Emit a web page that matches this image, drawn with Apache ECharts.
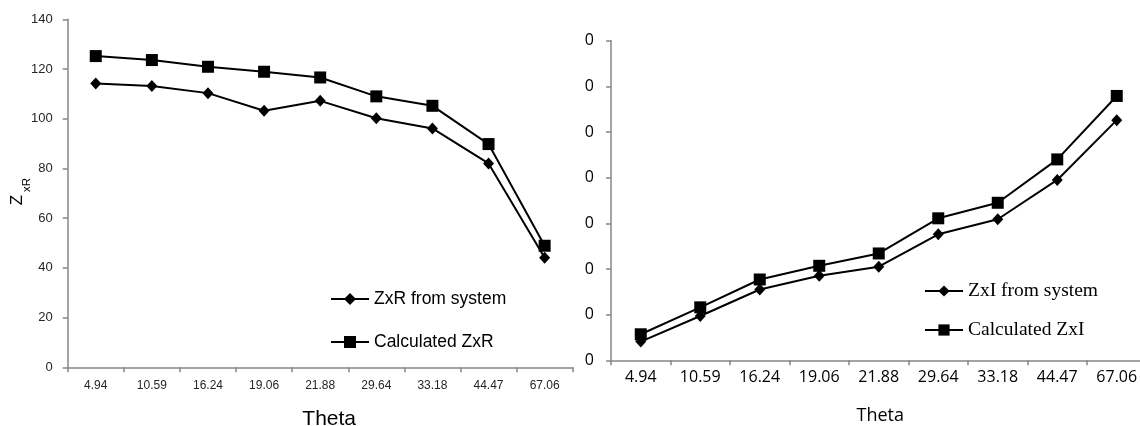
<!DOCTYPE html>
<html>
<head>
<meta charset="utf-8">
<script src="https://cdn.jsdelivr.net/npm/echarts@6/dist/echarts.min.js"></script>
<style>
html,body{margin:0;padding:0;background:#fff;}
#main{width:1140px;height:426px;}
</style>
</head>
<body>
<div id="main"></div>
<script>
const categories = ['4.94','10.59','16.24','19.06','21.88','29.64','33.18','44.47','67.06'];
const zxrSystem = [114.2, 113.2, 110.3, 103.2, 107.2, 100.2, 96.1, 82.0, 44.1];
const zxrCalc   = [125.2, 123.6, 120.9, 118.9, 116.6, 109.0, 105.2, 89.8, 48.9];
const zxiSystem = [4.1, 9.7, 15.5, 18.5, 20.5, 27.6, 30.9, 39.5, 52.6];
const zxiCalc   = [5.7, 11.6, 17.7, 20.7, 23.4, 31.1, 34.5, 44.0, 57.9];
const leftNames  = ['ZxR from system', 'Calculated ZxR'];
const rightNames = ['ZxI from system', 'Calculated ZxI'];

const chart = echarts.init(document.getElementById('main'), null, {renderer: 'canvas'});
const axisGrey = '#868686';
const sans = 'Liberation Sans, Arial, sans-serif';
const sans2 = 'Open Sans, Noto Sans, sans-serif';
const serif = 'Liberation Serif, Times New Roman, serif';

function lineSeries(name, data, symbol, size, xi, yi) {
  return {
    name: name, type: 'line', data: data, xAxisIndex: xi, yAxisIndex: yi,
    symbol: symbol, symbolSize: size, showSymbol: true,
    lineStyle: {color: '#000', width: 2},
    itemStyle: {color: '#000'},
    emphasis: {disabled: true}, animation: false, z: 3
  };
}

const option = {
  animation: false,
  backgroundColor: '#fff',
  grid: [
    {left: 67.7, top: 19.3, width: 505, height: 348, containLabel: false, outerBoundsMode: 'none'},
    {left: 611, top: 40.7, width: 535.5, height: 319.6, containLabel: false, outerBoundsMode: 'none'}
  ],
  xAxis: [
    {
      type: 'category', gridIndex: 0, data: categories, boundaryGap: true,
      axisLine: {lineStyle: {color: axisGrey, width: 1.5}},
      axisTick: {show: true, length: 5, lineStyle: {color: axisGrey, width: 1.5}},
      axisLabel: {color: '#262626', fontSize: 12, fontFamily: sans, margin: 12, interval: 0},
      splitLine: {show: false},
      name: 'Theta', nameLocation: 'middle', nameGap: 41,
      nameTextStyle: {color: '#000', fontSize: 21, fontFamily: sans, padding: [0, 0, 0, 18]}
    },
    {
      type: 'category', gridIndex: 1, data: categories, boundaryGap: true,
      axisLine: {lineStyle: {color: axisGrey, width: 1.5}},
      axisTick: {show: true, length: 5, lineStyle: {color: axisGrey, width: 1.5}},
      axisLabel: {color: '#000', fontSize: 16, fontFamily: sans2, margin: 9, interval: 0},
      splitLine: {show: false},
      name: 'Theta', nameLocation: 'middle', nameGap: 47,
      nameTextStyle: {color: '#000', fontSize: 18, fontFamily: sans2, padding: [0, 0, 0, 3]}
    }
  ],
  yAxis: [
    {
      type: 'value', gridIndex: 0, min: 0, max: 140, interval: 20,
      axisLine: {show: true, lineStyle: {color: axisGrey, width: 1.5}},
      axisTick: {show: true, length: 5, lineStyle: {color: axisGrey, width: 1.5}},
      axisLabel: {color: '#262626', fontSize: 13, fontFamily: sans, margin: 15},
      splitLine: {show: false}
    },
    {
      type: 'value', gridIndex: 1, min: 0, max: 70, interval: 10,
      axisLine: {show: true, lineStyle: {color: axisGrey, width: 1.5}},
      axisTick: {show: true, length: 5, lineStyle: {color: axisGrey, width: 1.5}},
      axisLabel: {color: '#000', fontSize: 16, fontFamily: sans2, margin: 17,
        formatter: function (v) { return String(v).slice(-1); }},
      splitLine: {show: false}
    }
  ],
  legend: [
    {
      data: leftNames, orient: 'vertical', left: 330, top: 290, padding: 0,
      itemWidth: 38, itemHeight: 15, itemGap: 25,
      textStyle: {color: '#000', fontSize: 17.5, fontFamily: sans},
      selectedMode: false
    },
    {
      data: rightNames, orient: 'vertical', left: 924, top: 281, padding: 0,
      itemWidth: 38, itemHeight: 14, itemGap: 19,
      textStyle: {color: '#000', fontSize: 19.5, fontFamily: serif},
      selectedMode: false
    }
  ],
  graphic: [
    {type: 'text', x: 17, y: 200, rotation: Math.PI / 2,
      style: {text: 'Z', fontSize: 17, fontFamily: sans, fill: '#000', align: 'center', verticalAlign: 'middle'}},
    {type: 'text', x: 27, y: 185, rotation: Math.PI / 2,
      style: {text: 'xR', fontSize: 11.5, fontFamily: sans, fill: '#000', align: 'center', verticalAlign: 'middle'}}
  ],
  series: [
    lineSeries(leftNames[0], zxrSystem, 'diamond', [11, 12], 0, 0),
    lineSeries(leftNames[1], zxrCalc, 'rect', 12, 0, 0),
    lineSeries(rightNames[0], zxiSystem, 'diamond', [11, 12], 1, 1),
    lineSeries(rightNames[1], zxiCalc, 'rect', 12, 1, 1)
  ]
};
chart.setOption(option);
</script>
</body>
</html>
